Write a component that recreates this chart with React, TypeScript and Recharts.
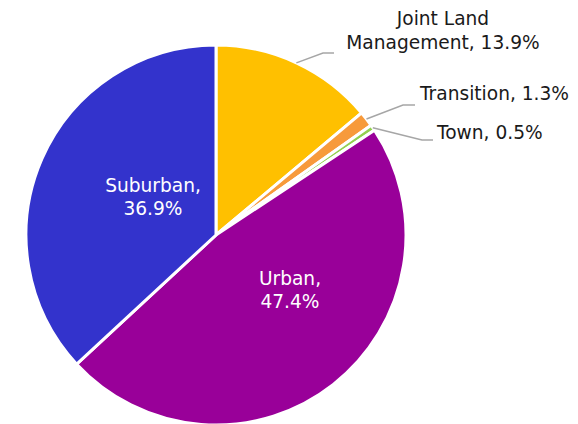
import { PieChart, Pie, Cell } from 'recharts';

const categories = ['Joint Land Management', 'Transition', 'Town', 'Urban', 'Suburban'];
const shares = [13.9, 1.3, 0.5, 47.4, 36.9];
const colors = ['#FFC000', '#F79A3B', '#92D050', '#990099', '#3333CC'];

// label text split over lines, as in the original
const labelLines: string[][] = [
  ['Joint Land', 'Management, 13.9%'],
  ['Transition, 1.3%'],
  ['Town, 0.5%'],
  ['Urban,', '47.4%'],
  ['Suburban,', '36.9%'],
];

const rows = categories.map((name, i) => ({ name, value: shares[i] }));

// inside labels: offset of text centre from pie centre; outside: elbow and text position (page coords)
const inside: Record<number, { dx: number; dy: number }> = {
  3: { dx: 74, dy: 55 },
  4: { dx: -63, dy: -38 },
};
const outside: Record<number, { ex: number; ey: number; hx: number; tx: number; ty: number; center?: number }> = {
  0: { ex: 323, ey: 53, hx: 334, tx: 0, ty: 0, center: 443 },
  1: { ex: 403, ey: 105, hx: 415, tx: 420, ty: 94 },
  2: { ex: 422, ey: 140, hx: 433, tx: 437, ty: 133 },
};

const FONT = '"DejaVu Sans", Verdana, sans-serif';
const FS = 18.6;

function renderLabel(p: any) {
  const { cx, cy, midAngle, outerRadius, index } = p;
  const lines = labelLines[index];
  if (inside[index]) {
    const o = inside[index];
    return (
      <text x={cx + o.dx} y={cy + o.dy - 11} textAnchor="middle" fill="#fff" fontSize={FS} fontFamily={FONT}>
        {lines.map((l, k) => (
          <tspan key={k} x={cx + o.dx} dy={k === 0 ? 0 : 23} dominantBaseline="middle">{l}</tspan>
        ))}
      </text>
    );
  }
  const o = outside[index];
  const RAD = Math.PI / 180;
  const sx = cx + outerRadius * Math.cos(-midAngle * RAD);
  const sy = cy + outerRadius * Math.sin(-midAngle * RAD);
  // svg sits at 8,8 on the page
  const ex = o.ex - 8, ey = o.ey - 8, hx = o.hx - 8;
  return (
    <g>
      <polyline points={`${sx},${sy} ${ex},${ey} ${hx},${ey}`} fill="none" stroke="#A6A6A6" strokeWidth={1.5} />
      {o.center ? (
        <text x={o.center - 8} y={19 - 8} textAnchor="middle" fill="#1a1a1a" fontSize={FS} fontFamily={FONT}>
          {lines.map((l, k) => (
            <tspan key={k} x={o.center! - 8} dy={k === 0 ? 0 : 24} dominantBaseline="middle">{l}</tspan>
          ))}
        </text>
      ) : (
        <text x={o.tx - 8} y={o.ty - 8} textAnchor="start" dominantBaseline="middle" fill="#1a1a1a" fontSize={FS} fontFamily={FONT}>
          {lines[0]}
        </text>
      )}
    </g>
  );
}

export default function App() {
  return (
    <PieChart width={570} height={416}>
      <Pie
        data={rows}
        dataKey="value"
        nameKey="name"
        cx={203}
        cy={222}
        outerRadius={190}
        startAngle={90}
        endAngle={-270}
        stroke="#fff"
        strokeWidth={3}
        label={renderLabel}
        labelLine={false}
        isAnimationActive={false}
      >
        {rows.map((r, i) => (
          <Cell key={r.name} fill={colors[i]} />
        ))}
      </Pie>
    </PieChart>
  );
}
